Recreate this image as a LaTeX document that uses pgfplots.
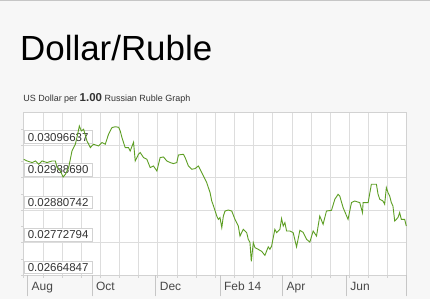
\documentclass[border=0pt]{standalone}
\usepackage{fontspec}
\setmainfont{Liberation Sans}
\usepackage{pgfplots}
\pgfplotsset{compat=1.18}
\definecolor{bg}{HTML}{F7F7F7}
\definecolor{gridc}{HTML}{DDDDDD}
\definecolor{linec}{HTML}{5C9E22}
\definecolor{txt}{HTML}{333333}
\begin{document}
\begin{tikzpicture}[x=1pt,y=1pt]
\fill[bg] (0,0) rectangle (430,300);
\draw[gray!45, line width=1pt] (0,299.5) -- (430,299.5);
\node[anchor=base west, inner sep=0, font=\fontsize{35}{40}\selectfont] at (19.5,239) {Dollar/Ruble};
\node[anchor=base west, inner sep=0, text=txt, font=\fontsize{9}{11}\selectfont] at (22.7,198) {US Dollar per {\fontsize{11.5}{13}\selectfont\bfseries 1.00} Russian Ruble Graph};
\begin{axis}[at={(23.3pt,24pt)}, anchor=south west, width=384pt, height=163pt, scale only axis,
  xmin=0, xmax=366, ymin=0.02664847, ymax=0.03204585,
  scaled y ticks=false,
  axis background/.style={fill=white},
  axis line style={draw=gray!35, line width=0.8pt},
  grid=major, grid style={gridc, line width=0.8pt},
  tick align=outside, xtick pos=bottom, ytick pos=left,
  major tick length=2.5pt, minor tick length=2.5pt,
  tick style={gray!35, line width=0.8pt},
  xtick={0,18.3,36.6,54.9,73.2,91.5,109.8,128.1,146.4,164.7,183,201.3,219.6,237.9,256.2,274.5,292.8,311.1,329.4,347.7,366},
  xticklabels={},
  extra x ticks={3.8,65.2,126.2,187.5,247.3,308.3,365.5},
  extra x tick labels={Aug,Oct,Dec,Feb 14,Apr,Jun,{}},
  extra x tick style={grid=none, major tick length=21pt, tick style={gray!45, line width=0.8pt},
    xticklabel style={anchor=base west, xshift=0.5pt, yshift=6pt, text=txt!90, font=\fontsize{12}{14}\selectfont}},
  ytick={0.02664847,0.02772794,0.02880742,0.02988690,0.03096637},
  yticklabels={0.02664847,0.02772794,0.02880742,0.02988690,0.03096637},
  minor ytick={0.027188,0.028268,0.029347,0.030427,0.031506},
  yticklabel style={anchor=south west, xshift=2.4pt, yshift=1.5pt, draw=gray!35, fill=white, text=txt,
    inner xsep=4pt, inner ysep=2.4pt, font=\fontsize{11.5}{13}\selectfont},
]
\addplot[linec, line width=0.9pt] table {
x y
0 0.030501
3.2 0.030445
8.0 0.030392
11.2 0.030445
14.3 0.030335
17.5 0.030445
22.3 0.030392
27.1 0.030445
30.2 0.030445
31.8 0.030226
35.0 0.030113
37.6 0.029913
39.8 0.030003
42.9 0.030226
46.1 0.030777
49.3 0.031000
51.5 0.031332
53.1 0.031607
55.0 0.031441
57.2 0.031498
60.4 0.031109
63.6 0.030890
66.7 0.031000
71.5 0.030943
74.7 0.031056
77.9 0.031000
81.0 0.031332
84.3 0.031554
87.4 0.031581
90.6 0.031564
92.2 0.031441
93.8 0.031222
96.9 0.030890
100.1 0.030890
101.7 0.030777
104.9 0.031066
106.5 0.030445
109.6 0.030667
111.3 0.030724
114.4 0.030558
117.6 0.030501
120.8 0.030226
123.9 0.030279
127.2 0.030113
130.3 0.030558
133.5 0.030578
136.7 0.030445
139.9 0.030392
143.0 0.030358
146.2 0.030392
147.8 0.030644
152.5 0.030667
154.2 0.030558
157.3 0.030279
160.5 0.030169
163.7 0.030192
166.8 0.030279
168.5 0.030169
171.6 0.029947
174.8 0.029727
178.0 0.029395
179.6 0.029116
181.1 0.028973
184.4 0.028618
185.9 0.028508
187.5 0.028565
189.2 0.028232
190.7 0.028618
192.3 0.028784
195.4 0.028817
198.7 0.028784
201.8 0.028508
205.0 0.028286
206.6 0.027953
209.7 0.028176
213.0 0.028066
214.5 0.027844
216.1 0.027744
217.4 0.027113
219.3 0.027734
220.9 0.027568
224.0 0.027512
227.3 0.027445
230.4 0.027313
232.0 0.027455
233.6 0.027595
235.2 0.027512
236.8 0.027622
239.9 0.028176
241.6 0.028066
244.7 0.028176
246.3 0.028532
247.9 0.028286
249.5 0.028399
251.1 0.028120
254.2 0.028120
257.4 0.028066
260.6 0.027595
263.8 0.028143
266.9 0.028077
270.2 0.027844
273.3 0.027754
276.5 0.028120
279.7 0.027953
282.8 0.028618
286.0 0.028342
289.2 0.028784
294.0 0.028807
297.2 0.029173
300.3 0.029339
301.9 0.029282
305.1 0.028897
309.8 0.028508
313.1 0.029063
316.2 0.029116
321.0 0.029063
323.6 0.028731
324.2 0.029063
329.0 0.029063
332.1 0.029671
336.9 0.029671
338.5 0.029339
340.1 0.029173
343.2 0.029116
344.8 0.029007
346.4 0.029561
348.0 0.029395
349.6 0.029282
351.2 0.029063
352.7 0.028950
354.4 0.028452
357.5 0.028565
359.1 0.028731
360.7 0.028508
363.9 0.028508
365.5 0.028286
};
\end{axis}
\end{tikzpicture}
\end{document}
